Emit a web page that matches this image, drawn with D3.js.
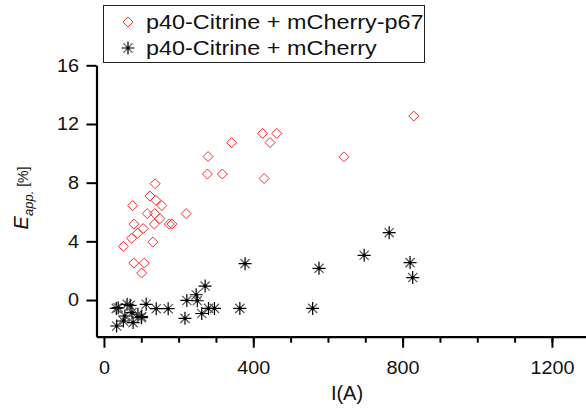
<!DOCTYPE html>
<html>
<head>
<meta charset="utf-8">
<script src="https://cdn.jsdelivr.net/npm/d3@7"></script>
<style>
  body { margin: 0; background: #fff; }
  svg { display: block; font-family: "Liberation Sans", Arial, sans-serif; }
</style>
</head>
<body>
<div id="canvas"></div>
<script>
// p40-Citrine + mCherry-p67 (red diamonds)
var redX = [137, 123, 139, 155, 77, 116, 136, 150, 220, 80, 135, 105, 90, 175, 182, 74, 131, 52, 80, 108, 101,
  279, 277, 317, 342, 425, 463, 445, 429, 643, 830];
var redY = [7.93, 7.09, 6.8, 6.44, 6.44, 5.89, 5.89, 5.55, 5.89, 5.18, 5.18, 4.87, 4.55, 5.18, 5.18, 4.21, 3.95, 3.66, 2.52, 2.52, 1.84,
  9.78, 8.59, 8.59, 10.73, 11.36, 11.36, 10.73, 8.28, 9.76, 12.54];

// p40-Citrine + mCherry (black asterisks)
var blackX = [34, 52, 78, 33, 38, 62, 70, 56, 75, 91, 100, 101, 113, 140, 172, 217, 222, 247, 250, 262, 271, 280, 296,
  364, 378, 559, 576, 697, 764, 820, 827];
var blackY = [-1.77, -1.43, -1.54, -0.57, -0.52, -0.29, -0.36, -1.09, -0.86, -0.97, -1.2, -1.13, -0.29, -0.59, -0.59, -1.25, -0.03, 0.36, -0.05, -0.92, 0.95, -0.57, -0.57,
  -0.57, 2.48, -0.57, 2.16, 3.05, 4.59, 2.55, 1.53];

var xTicks = [0, 400, 800, 1200];
var yTicks = [0, 4, 8, 12, 16];
var seriesNames = ["p40-Citrine + mCherry-p67", "p40-Citrine + mCherry"];

function run() {
  var width = 586,
    height = 411;

  var svg = d3
    .select("#canvas")
    .append("svg")
    .attr("width", width)
    .attr("height", height);

  var x = d3.scaleLinear().domain([-20, 1300]).range([96.5, 96.5 + 1320 * 0.3733]);
  var y = d3.scaleLinear().domain([-2.5, 16]).range([336.7, 65.3]);

  // minor x ticks
  svg
    .append("g")
    .attr("transform", "translate(0," + y(-2.5) + ")")
    .call(
      d3
        .axisBottom(x)
        .tickValues(d3.range(100, 1300, 100))
        .tickSize(6)
        .tickSizeOuter(0)
        .tickFormat("")
    )
    .call(function(g) {
      g.select(".domain").remove();
      g.selectAll("line").attr("stroke-width", 2);
    });

  var xAxis = svg
    .append("g")
    .attr("transform", "translate(0," + y(-2.5) + ")")
    .call(
      d3
        .axisBottom(x)
        .tickValues(xTicks)
        .tickSize(11)
        .tickSizeOuter(0)
        .tickPadding(14)
        .tickFormat(d3.format("d"))
    );

  var yAxis = svg
    .append("g")
    .attr("transform", "translate(" + x(-20) + ",0)")
    .call(
      d3
        .axisLeft(y)
        .tickValues(yTicks)
        .tickSize(10)
        .tickSizeOuter(0)
        .tickPadding(6)
        .tickFormat(d3.format("d"))
    );

  [xAxis, yAxis].forEach(function(g) {
    g.select(".domain").attr("stroke-width", 2.2);
    g.selectAll("line").attr("stroke-width", 2);
    g.selectAll("text")
      .attr("fill", "#111")
      .style("font-size", "18px")
      .style("font-family", "Liberation Sans, Arial, sans-serif")
      .attr("transform", "scale(1.1,1)");
  });

  // axis titles
  svg
    .append("text")
    .attr("x", 347)
    .attr("y", 400)
    .attr("text-anchor", "middle")
    .style("font-size", "20px")
    .attr("fill", "#111")
    .text("I(A)");

  var yTitle = svg
    .append("text")
    .attr("transform", "translate(28,198) rotate(-90)")
    .attr("text-anchor", "middle")
    .style("font-size", "20px")
    .attr("fill", "#111");
  yTitle.append("tspan").style("font-style", "italic").text("E");
  yTitle
    .append("tspan")
    .style("font-style", "italic")
    .style("font-size", "13px")
    .attr("dy", 5)
    .text("app.");
  yTitle
    .append("tspan")
    .style("font-size", "14px")
    .attr("dy", -5)
    .text(" [%]");

  var redPts = redX.map(function(d, i) {
    return { x: d, y: redY[i] };
  });
  var blackPts = blackX.map(function(d, i) {
    return { x: d, y: blackY[i] };
  });

  function diamond(sel) {
    sel
      .attr("d", "M0,-5L5,0L0,5L-5,0Z")
      .attr("fill", "none")
      .attr("stroke", "#ff2a2a")
      .attr("stroke-width", 1);
  }

  function asterisk(g) {
    var r = 6.5,
      r2 = r * Math.SQRT1_2;
    g.append("path")
      .attr("d", "M" + -r + ",0H" + r + "M0," + -r + "V" + r)
      .attr("stroke", "#000")
      .attr("stroke-width", 1.2);
    g.append("path")
      .attr("d", "M" + -r2 + "," + -r2 + "L" + r2 + "," + r2 + "M" + -r2 + "," + r2 + "L" + r2 + "," + -r2)
      .attr("stroke", "#555")
      .attr("stroke-width", 1.2);
    g.append("circle")
      .attr("r", 1.8)
      .attr("fill", "#000");
  }

  svg
    .append("g")
    .selectAll("path")
    .data(redPts)
    .enter()
    .append("path")
    .attr("transform", function(d) {
      return "translate(" + x(d.x) + "," + y(d.y) + ")";
    })
    .call(diamond);

  svg
    .append("g")
    .selectAll("g")
    .data(blackPts)
    .enter()
    .append("g")
    .attr("transform", function(d) {
      return "translate(" + x(d.x) + "," + y(d.y) + ")";
    })
    .each(function() {
      asterisk(d3.select(this));
    });

  // legend
  var legend = svg.append("g");
  legend
    .append("rect")
    .attr("x", 103.5)
    .attr("y", 5.5)
    .attr("width", 321)
    .attr("height", 57)
    .attr("fill", "#fff")
    .attr("stroke", "#222")
    .attr("stroke-width", 1);

  legend
    .append("path")
    .attr("transform", "translate(128,22)")
    .call(diamond);
  legend
    .append("g")
    .attr("transform", "translate(128,48)")
    .call(asterisk);

  legend
    .selectAll("text")
    .data(seriesNames)
    .enter()
    .append("text")
    .attr("transform", function(d, i) {
      return "translate(146," + (29 + i * 26) + ") scale(1.17,1)";
    })
    .style("font-size", "20px")
    .attr("fill", "#111")
    .text(function(d) {
      return d;
    });
}

(function() {
  run();
})();
</script>
</body>
</html>
